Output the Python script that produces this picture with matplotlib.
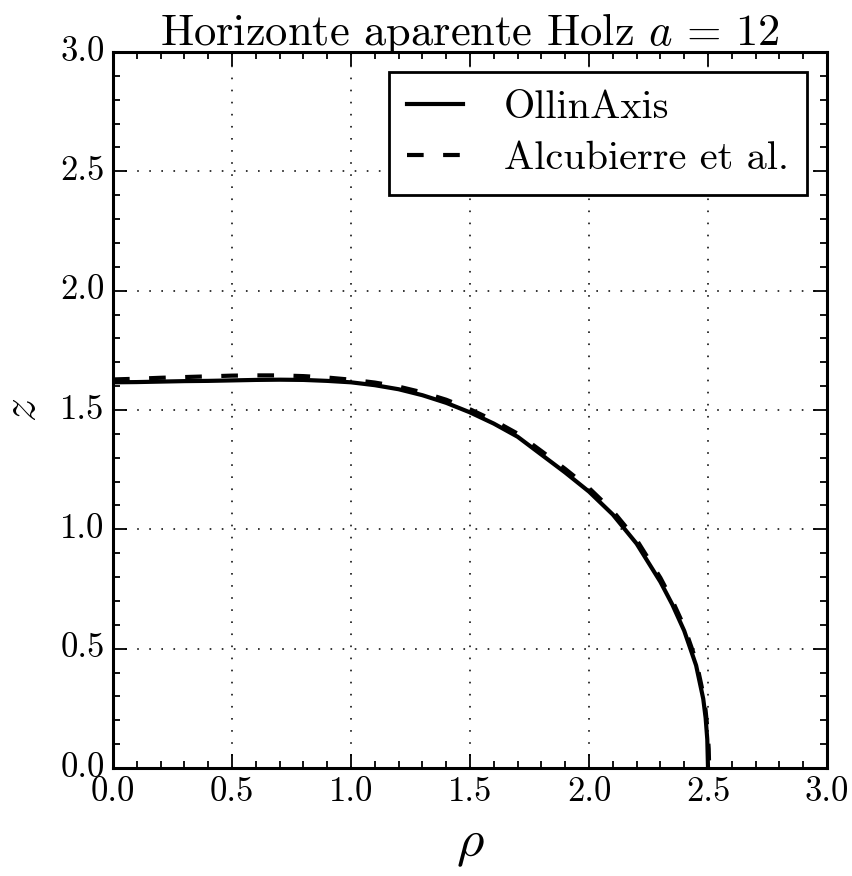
import matplotlib
matplotlib.use("Agg")
import matplotlib.pyplot as plt

# horizon from OllinAxis (solid)
rho_ollin = [0.0, 0.1, 0.2, 0.3, 0.4, 0.5, 0.6, 0.7, 0.8, 0.9, 1.0, 1.1, 1.2,
             1.3, 1.4, 1.5, 1.6, 1.7, 1.8, 1.9, 2.0, 2.1, 2.2, 2.3, 2.35, 2.4,
             2.45, 2.48, 2.49, 2.497, 2.5]
z_ollin = [1.616, 1.617, 1.619, 1.621, 1.622, 1.624, 1.626, 1.627, 1.626, 1.622,
           1.616, 1.604, 1.587, 1.562, 1.530, 1.490, 1.443, 1.388, 1.313, 1.238,
           1.158, 1.062, 0.940, 0.780, 0.685, 0.575, 0.430, 0.290, 0.210, 0.120,
           0.0]

# horizon from Alcubierre et al. (dashed)
rho_alc = [0.0, 0.1, 0.2, 0.3, 0.4, 0.5, 0.6, 0.7, 0.8, 0.9, 1.0, 1.1, 1.2,
           1.3, 1.4, 1.5, 1.6, 1.7, 1.8, 1.9, 2.0, 2.1, 2.2, 2.3, 2.35, 2.4,
           2.45, 2.48, 2.49, 2.498, 2.503, 2.505]
z_alc = [1.628, 1.631, 1.635, 1.638, 1.641, 1.644, 1.645, 1.645, 1.642, 1.636,
         1.627, 1.615, 1.598, 1.574, 1.543, 1.503, 1.456, 1.401, 1.328, 1.253,
         1.173, 1.077, 0.956, 0.797, 0.702, 0.593, 0.450, 0.310, 0.240, 0.160,
         0.080, 0.0]

ticks = [0.0, 0.5, 1.0, 1.5, 2.0, 2.5, 3.0]

plt.style.use("classic")
plt.rcParams["font.family"] = "serif"
plt.rcParams["font.serif"] = ["cmr10"]
plt.rcParams["mathtext.fontset"] = "cm"
plt.rcParams["axes.unicode_minus"] = False
plt.rcParams["axes.formatter.use_mathtext"] = True

fig = plt.figure(figsize=(8.52, 8.76), dpi=100)
ax = fig.add_axes([113 / 852, 1 - 768 / 876, 714 / 852, 716 / 876])

ax.plot(rho_ollin, z_ollin, color="k", lw=3, ls="-", label="OllinAxis")
ax.plot(rho_alc, z_alc, color="k", lw=3, ls="--", dashes=(12, 14),
        label="Alcubierre et al.")

ax.set_xlim(0, 3)
ax.set_ylim(0, 3)
ax.set_xticks(ticks)
ax.set_yticks(ticks)
ax.set_xticklabels(["%.1f" % t for t in ticks])
ax.set_yticklabels(["%.1f" % t for t in ticks])
ax.minorticks_on()
ax.tick_params(which="major", length=10, width=1.3, labelsize=25, pad=6,
               direction="in", top=True, right=True)
ax.tick_params(which="minor", length=5, width=1.3, direction="in",
               top=True, right=True)
for s in ax.spines.values():
    s.set_linewidth(2.2)

ax.grid(True, which="major", color="k", lw=1.1, ls=(0, (1.2, 7.5)))

ax.set_title(r"Horizonte aparente Holz $a\,=\,12$", fontsize=32, pad=5)
ax.set_xlabel(r"$\rho$", fontsize=38, labelpad=10)
ax.set_ylabel(r"$z$", fontsize=34, labelpad=12)

leg = ax.legend(loc="upper right", fontsize=29, handlelength=1.4,
                handletextpad=1.0, borderpad=0.45, labelspacing=0.35,
                borderaxespad=0.5, fancybox=False, numpoints=1)
leg.get_frame().set_linewidth(2.0)
leg.get_frame().set_edgecolor("k")

fig.savefig("out.png", dpi=100)
